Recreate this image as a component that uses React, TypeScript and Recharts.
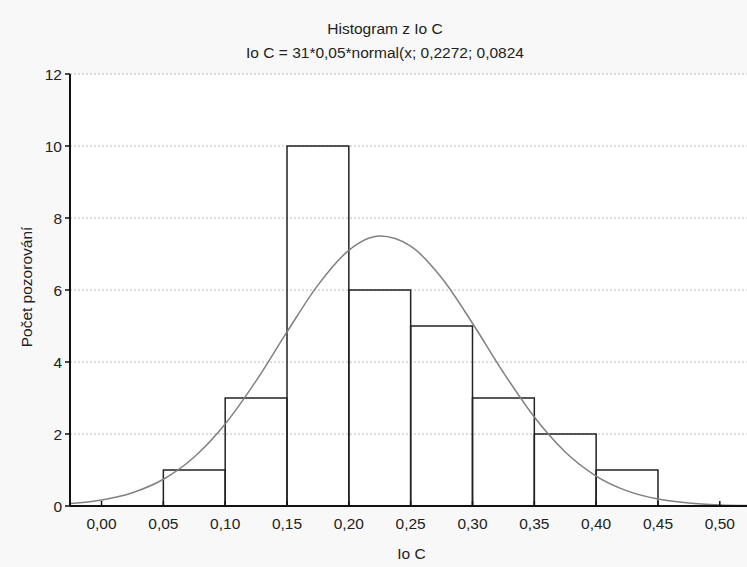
import { ComposedChart, Line, XAxis, YAxis, CartesianGrid, ReferenceArea } from 'recharts'

// histogram bins (0.05 wide) and observed counts
const binStart = [0.05, 0.1, 0.15, 0.2, 0.25, 0.3, 0.35, 0.4]
const binEnd = [0.1, 0.15, 0.2, 0.25, 0.3, 0.35, 0.4, 0.45]
const counts = [1, 3, 10, 6, 5, 3, 2, 1]

// fitted normal curve
const curveX = [
  -0.03, -0.025, 0, 0.025, 0.05, 0.075, 0.1, 0.125, 0.15, 0.175, 0.2, 0.225, 0.25,
  0.275, 0.3, 0.325, 0.35, 0.375, 0.4, 0.425, 0.45, 0.475, 0.5, 0.525,
]
const curveY = [
  0.057, 0.069, 0.168, 0.37, 0.743, 1.362, 2.278, 3.476, 4.836, 6.136, 7.102, 7.497, 7.218,
  6.339, 5.077, 3.708, 2.47, 1.501, 0.832, 0.421, 0.194, 0.082, 0.031, 0.011,
]

const xTicks = [0, 0.05, 0.1, 0.15, 0.2, 0.25, 0.3, 0.35, 0.4, 0.45, 0.5]
const yTicks = [0, 2, 4, 6, 8, 10, 12]

const font = '"Liberation Sans", Arial, sans-serif'
const ink = '#222'
const fs = 15.5

const fmt = (v: number) => v.toFixed(2).replace('.', ',')

export default function App() {
  const data = curveX.map((x, i) => ({ x, y: curveY[i] }))

  return (
    <div
      style={{
        position: 'absolute',
        left: 0,
        top: 0,
        width: 747,
        height: 567,
        background: '#f8f8f8',
        fontFamily: font,
        fontSize: fs,
        color: ink,
        overflow: 'hidden',
      }}
    >
      <div style={{ position: 'absolute', left: 0, width: 770, top: 20, textAlign: 'center' }}>
        Histogram z Io C
      </div>
      <div style={{ position: 'absolute', left: 0, width: 770, top: 44, textAlign: 'center' }}>
        Io C = 31*0,05*normal(x; 0,2272; 0,0824
      </div>
      <div style={{ position: 'absolute', left: 0, width: 823, top: 545, textAlign: 'center' }}>
        Io C
      </div>
      <div
        style={{
          position: 'absolute',
          left: 27,
          top: 287,
          whiteSpace: 'nowrap',
          transform: 'translate(-50%, -50%) rotate(-90deg)',
        }}
      >
        Počet pozorování
      </div>

      <ComposedChart
        width={747}
        height={567}
        data={data}
        margin={{ top: 74, right: 0, bottom: 31, left: 20 }}
        style={{ position: 'absolute', left: 0, top: 0 }}
      >
        <CartesianGrid
          vertical={false}
          fill="#fff"
          stroke="#bbb"
          strokeDasharray="2 2"
          horizontalValues={yTicks}
        />
        <XAxis
          dataKey="x"
          type="number"
          domain={[-0.0255, 0.522]}
          allowDataOverflow
          ticks={xTicks}
          tickFormatter={fmt}
          height={30}
          tickSize={-5}
          tickMargin={17}
          axisLine={{ stroke: '#111', strokeWidth: 2 }}
          tickLine={{ stroke: '#111', strokeWidth: 1.5 }}
          tick={{ fill: ink, fontSize: fs, fontFamily: font }}
        />
        <XAxis
          xAxisId="top"
          dataKey="x"
          type="number"
          orientation="top"
          domain={[-0.0255, 0.522]}
          allowDataOverflow
          ticks={xTicks}
          height={0}
          tickSize={-5}
          tick={false}
          axisLine={{ stroke: '#111', strokeWidth: 2 }}
          tickLine={{ stroke: '#111', strokeWidth: 1.5 }}
        />
        <YAxis
          type="number"
          domain={[0, 12]}
          ticks={yTicks}
          width={50}
          tickSize={5}
          tickMargin={3}
          axisLine={{ stroke: '#111', strokeWidth: 2 }}
          tickLine={{ stroke: '#111', strokeWidth: 1.5 }}
          tick={{ fill: ink, fontSize: fs, fontFamily: font }}
        />
        {counts.map((c, i) => (
          <ReferenceArea
            key={i}
            x1={binStart[i]}
            x2={binEnd[i]}
            y1={0}
            y2={c}
            fill="none"
            fillOpacity={0}
            stroke="#222"
            strokeWidth={1.5}
          />
        ))}
        <Line
          type="monotone"
          dataKey="y"
          stroke="#808080"
          strokeWidth={1.5}
          dot={false}
          activeDot={false}
          isAnimationActive={false}
        />
      </ComposedChart>
    </div>
  )
}
